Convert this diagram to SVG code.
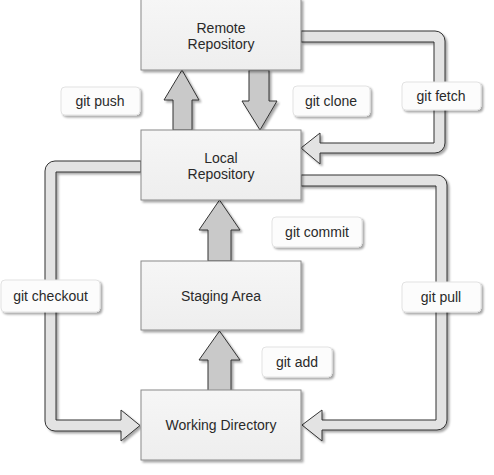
<svg xmlns="http://www.w3.org/2000/svg" width="494" height="475" viewBox="0 0 494 475">
<defs>
<filter id="sh" x="-10%" y="-10%" width="130%" height="130%">
<feDropShadow dx="2" dy="2" stdDeviation="0.8" flood-color="#000" flood-opacity="0.35"/>
</filter>
<linearGradient id="bg" x1="0" y1="0" x2="0" y2="1">
<stop offset="0" stop-color="#f6f6f6"/>
<stop offset="1" stop-color="#eeeeee"/>
</linearGradient>
</defs>
<style>
.node rect{fill:url(#bg);stroke:#8a8a8a;stroke-width:1}
.node text,.lbl text{font-family:"Liberation Sans",Arial,sans-serif;font-size:14px;fill:#2a2a2a;text-anchor:middle}
.lbl rect{fill:#fcfcfc;stroke:#e2e2e2;stroke-width:1}
.big{fill:#c9c9c9;stroke:#333;stroke-width:1}
.flex{fill:#e3e3e3;stroke:#333;stroke-width:1}
</style>
<rect width="494" height="475" fill="#fff"/>
<g id="connectors">
<path class="flex" filter="url(#sh)" d="M301,31 H435 A10 10 0 0 1 445 41 V143 A10 10 0 0 1 435 153 H320 V164 L301 148 L320 133 V143 H434 V42 H301 Z"/>
<path class="flex" filter="url(#sh)" d="M301,175 H437 A10 10 0 0 1 447 185 V420 A10 10 0 0 1 437 430 H322 V441 L302 425 L322 410 V420 H436 V186 H301 Z"/>
<path class="flex" filter="url(#sh)" d="M141,161 H55 A10 10 0 0 0 45 171 V421 A10 10 0 0 0 55 431 H121 V441 L140 425.5 L121 410 V420 H56 V172 H141 Z"/>
<path class="big" filter="url(#sh)" d="M173,130 V100 H164 L182 70 L199 100 H192 V130 Z"/>
<path class="big" filter="url(#sh)" d="M249,70 H269 V101 H277 L260 130 L242 101 H249 Z"/>
<path class="big" filter="url(#sh)" d="M208,261 V230 H199 L219.5 200 L240 230 H231 V261 Z"/>
<path class="big" filter="url(#sh)" d="M208,391 V360 H199 L219.5 331 L240 360 H231 V391 Z"/>
</g>
<g id="remote" class="node"><rect x="141" y="-1" width="160" height="71" filter="url(#sh)"/><text x="221" y="33">Remote</text><text x="221" y="49">Repository</text></g>
<g id="local" class="node"><rect x="141" y="130" width="160" height="70" filter="url(#sh)"/><text x="221" y="163">Local</text><text x="221" y="179">Repository</text></g>
<g id="staging" class="node"><rect x="141" y="261" width="160" height="69" filter="url(#sh)"/><text x="221" y="301">Staging Area</text></g>
<g id="working" class="node"><rect x="141" y="390" width="160" height="70" filter="url(#sh)"/><text x="221" y="430">Working Directory</text></g>
<g id="l-push" class="lbl"><rect x="61" y="87" width="79" height="28" rx="4" filter="url(#sh)"/><text x="100" y="106">git push</text></g>
<g id="l-clone" class="lbl"><rect x="293" y="86" width="77" height="30" rx="4" filter="url(#sh)"/><text x="331" y="106">git clone</text></g>
<g id="l-fetch" class="lbl"><rect x="402" y="82" width="79" height="28" rx="4" filter="url(#sh)"/><text x="441" y="101">git fetch</text></g>
<g id="l-commit" class="lbl"><rect x="272" y="217" width="90" height="30" rx="4" filter="url(#sh)"/><text x="317" y="237">git commit</text></g>
<g id="l-pull" class="lbl"><rect x="402" y="282" width="79" height="30" rx="4" filter="url(#sh)"/><text x="441" y="302">git pull</text></g>
<g id="l-add" class="lbl"><rect x="262" y="347" width="70" height="30" rx="4" filter="url(#sh)"/><text x="297" y="367">git add</text></g>
<g id="l-checkout" class="lbl"><rect x="1" y="280" width="99" height="32" rx="4" filter="url(#sh)"/><text x="50.5" y="301">git checkout</text></g>
</svg>
